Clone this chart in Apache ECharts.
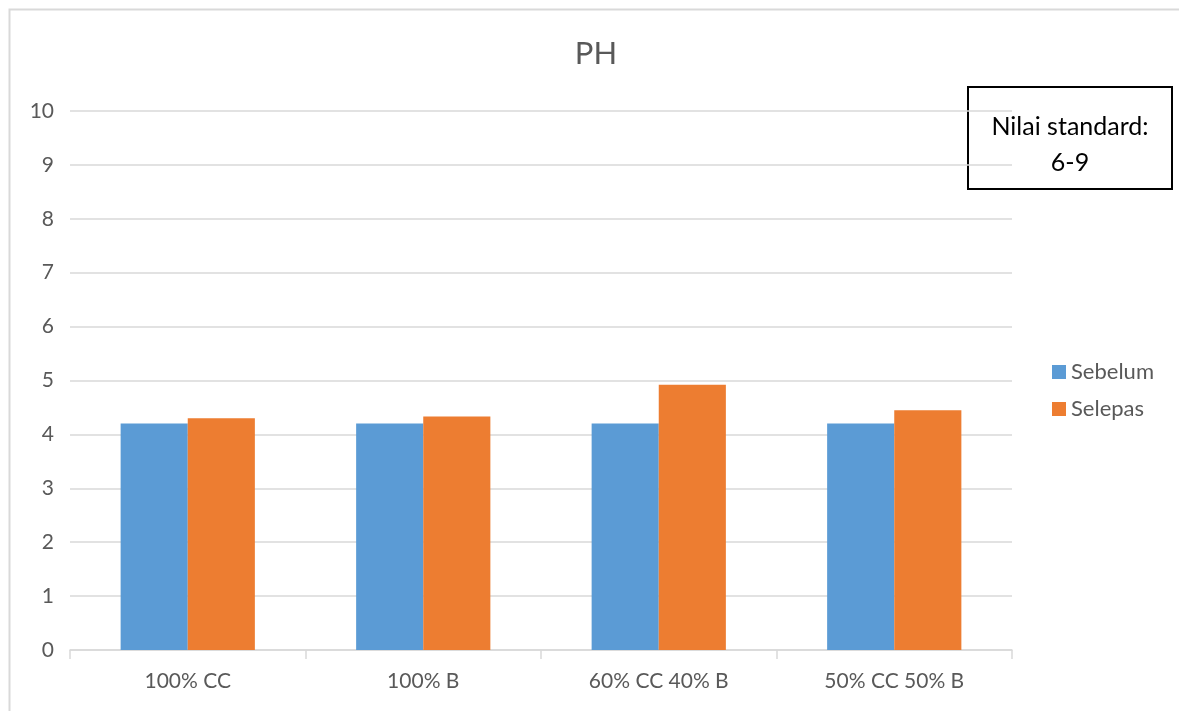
<!DOCTYPE html>
<html>
<head>
<meta charset="utf-8">
<script src="https://cdn.jsdelivr.net/npm/echarts@6/dist/echarts.min.js"></script>
<style>
  html, body { margin: 0; padding: 0; background: #fff; }
  #chart { width: 1179px; height: 711px; }
</style>
</head>
<body>
<div id="chart"></div>
<script>
// data
var categories = ['100% CC', '100% B', '60% CC 40% B', '50% CC 50% B'];
var sebelum = [4.2, 4.2, 4.2, 4.2];
var selepas = [4.3, 4.33, 4.92, 4.45];
var yTicks = [0, 10, 1]; // min, max, interval

var textColor = '#595959';
var fontFamily = 'Lato, "Open Sans", sans-serif';

var myChart = echarts.init(document.getElementById('chart'));
myChart.setOption({
    animation: false,
    textStyle: { fontFamily: fontFamily },
    title: {
        text: 'PH',
        left: 591,
        textAlign: 'center',
        top: 33,
        textStyle: { fontSize: 31, fontWeight: 'normal', color: textColor, fontFamily: fontFamily }
    },
    legend: {
        orient: 'vertical',
        left: 1047,
        top: 356,
        itemWidth: 14,
        itemHeight: 14,
        itemGap: 15,
        icon: 'rect',
        textStyle: { fontSize: 22, color: textColor, fontFamily: fontFamily }
    },
    grid: { left: 70, right: 167, top: 111, bottom: 61, containLabel: false },
    xAxis: {
        type: 'category',
        data: categories,
        axisLine: { lineStyle: { color: '#d9d9d9', width: 1.5 } },
        axisTick: { show: true, length: 9, lineStyle: { color: '#d9d9d9', width: 1.5 } },
        axisLabel: { color: textColor, fontSize: 21, margin: 21, fontFamily: fontFamily }
    },
    yAxis: {
        type: 'value',
        min: yTicks[0],
        max: yTicks[1],
        interval: yTicks[2],
        axisLine: { show: false },
        axisTick: { show: false },
        axisLabel: { color: textColor, fontSize: 21, margin: 16, fontFamily: fontFamily },
        splitLine: { lineStyle: { color: '#d9d9d9', width: 1.5 } }
    },
    series: [
        {
            name: 'Sebelum',
            type: 'bar',
            data: sebelum,
            barGap: '0%',
            barCategoryGap: '43%',
            itemStyle: { color: '#5b9bd5' }
        },
        {
            name: 'Selepas',
            type: 'bar',
            data: selepas,
            barGap: '0%',
            barCategoryGap: '43%',
            itemStyle: { color: '#ed7d31' }
        }
    ],
    graphic: [
        {
            // outer chart frame
            type: 'rect',
            shape: { x: 9.5, y: 9.5, width: 1180, height: 720 },
            style: { fill: 'none', stroke: '#d9d9d9', lineWidth: 2 },
            silent: true
        },
        {
            type: 'rect',
            shape: { x: 968, y: 87, width: 204, height: 102 },
            style: { fill: '#fff', stroke: '#000', lineWidth: 2 }
        },
        {
            type: 'text',
            x: 1070,
            y: 145,
            style: {
                text: 'Nilai standard:\n6-9',
                align: 'center',
                verticalAlign: 'middle',
                fontSize: 25,
                lineHeight: 36,
                fill: '#000',
                fontFamily: fontFamily
            }
        }
    ]
});
</script>
</body>
</html>
